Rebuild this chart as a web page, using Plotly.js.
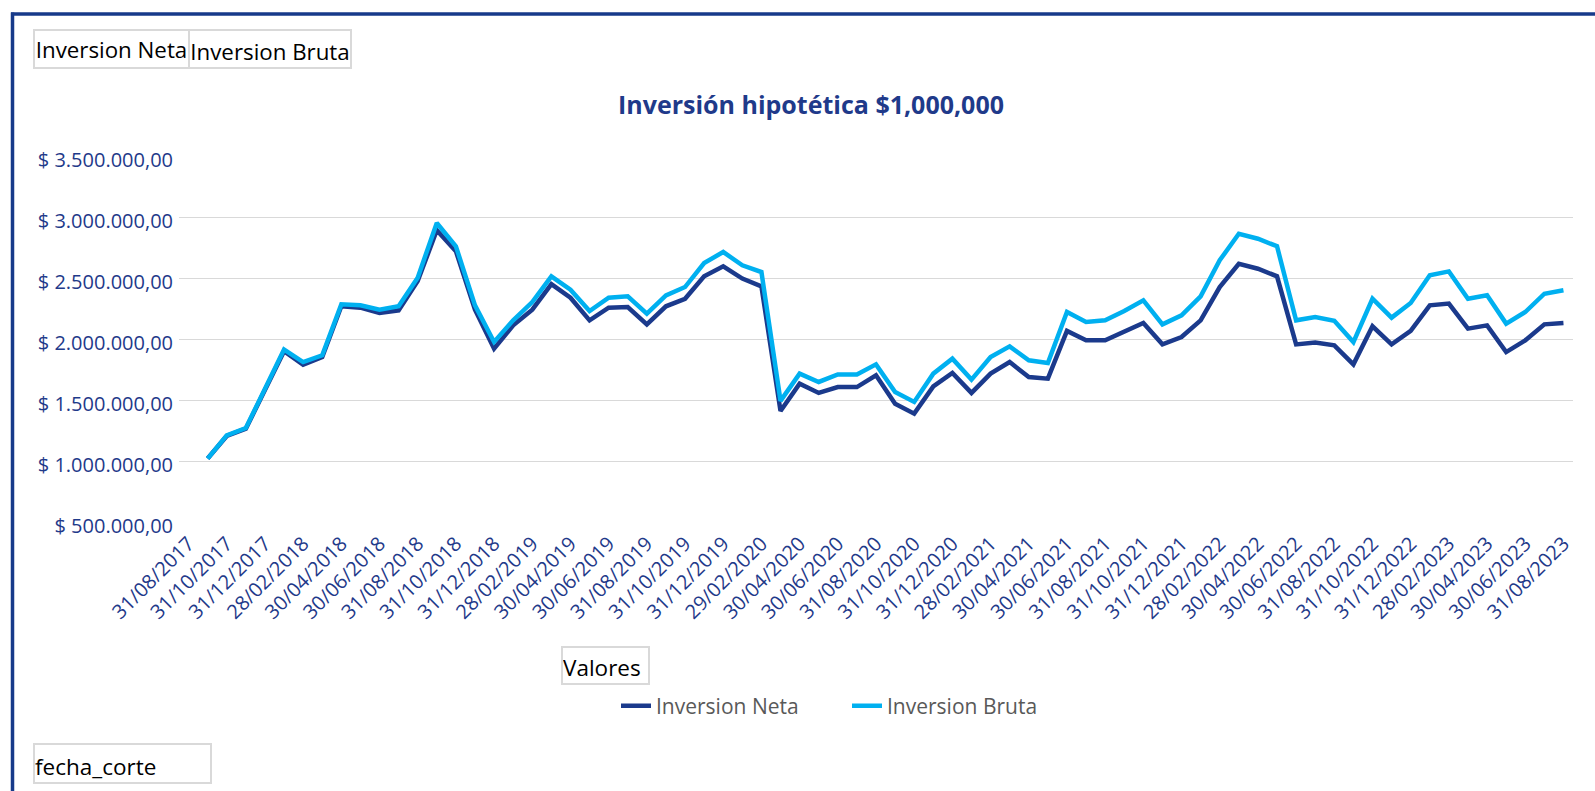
<!DOCTYPE html>
<html>
<head>
<meta charset="utf-8">
<script src="https://cdn.plot.ly/plotly-3.0.1.min.js"></script>
<style>
  html, body { margin: 0; padding: 0; background: #ffffff; }
  #chart { width: 1595px; height: 791px; }
</style>
</head>
<body>
<div id="chart"></div>
<script>
// ---- data ----
const fechas = [
  "31/08/2017","30/09/2017","31/10/2017","30/11/2017","31/12/2017",
  "31/01/2018","28/02/2018","31/03/2018","30/04/2018","31/05/2018","30/06/2018",
  "31/07/2018","31/08/2018","30/09/2018","31/10/2018","30/11/2018","31/12/2018",
  "31/01/2019","28/02/2019","31/03/2019","30/04/2019","31/05/2019","30/06/2019",
  "31/07/2019","31/08/2019","30/09/2019","31/10/2019","30/11/2019","31/12/2019",
  "31/01/2020","29/02/2020","31/03/2020","30/04/2020","31/05/2020","30/06/2020",
  "31/07/2020","31/08/2020","30/09/2020","31/10/2020","30/11/2020","31/12/2020",
  "31/01/2021","28/02/2021","31/03/2021","30/04/2021","31/05/2021","30/06/2021",
  "31/07/2021","31/08/2021","30/09/2021","31/10/2021","30/11/2021","31/12/2021",
  "31/01/2022","28/02/2022","31/03/2022","30/04/2022","31/05/2022","30/06/2022",
  "31/07/2022","31/08/2022","30/09/2022","31/10/2022","30/11/2022","31/12/2022",
  "31/01/2023","28/02/2023","31/03/2023","30/04/2023","31/05/2023","30/06/2023",
  "31/07/2023","31/08/2023"
];

const inversionNeta = [
  null, 1020000, 1205000, 1265000, 1590000, 1900000, 1790000, 1853000, 2268000, 2257000,
  2213000, 2235000, 2476000, 2891000, 2720000, 2240000, 1921000, 2112000, 2240000, 2449000,
  2338000, 2153000, 2257000, 2262000, 2120000, 2268000, 2330000, 2514000, 2596000, 2495000,
  2432000, 1410000, 1634000, 1558000, 1606000, 1606000, 1702000, 1470000, 1388000, 1612000,
  1722000, 1558000, 1716000, 1811000, 1688000, 1675000, 2066000, 1989000, 1989000, 2057000,
  2131000, 1956000, 2016000, 2153000, 2426000, 2617000, 2576000, 2514000, 1956000, 1972000,
  1948000, 1792000, 2104000, 1956000, 2066000, 2276000, 2290000, 2085000, 2112000, 1893000,
  1989000, 2120000, 2131000
];

const inversionBruta = [
  null, 1020000, 1210000, 1270000, 1593000, 1913000, 1811000, 1866000, 2284000, 2276000,
  2240000, 2268000, 2503000, 2951000, 2760000, 2276000, 1976000, 2153000, 2303000, 2514000,
  2404000, 2229000, 2339000, 2350000, 2208000, 2358000, 2426000, 2623000, 2713000, 2604000,
  2549000, 1493000, 1716000, 1648000, 1710000, 1710000, 1792000, 1565000, 1484000, 1716000,
  1839000, 1667000, 1853000, 1940000, 1825000, 1803000, 2221000, 2139000, 2153000, 2229000,
  2317000, 2120000, 2194000, 2350000, 2645000, 2863000, 2822000, 2760000, 2153000, 2180000,
  2150000, 1975000, 2330000, 2175000, 2295000, 2522000, 2554000, 2330000, 2358000, 2126000,
  2221000, 2371000, 2399000
];

const yTickVals = [500000, 1000000, 1500000, 2000000, 2500000, 3000000, 3500000];
const yTickText = ["$ 500.000,00", "$ 1.000.000,00", "$ 1.500.000,00", "$ 2.000.000,00",
                   "$ 2.500.000,00", "$ 3.000.000,00", "$ 3.500.000,00"];
const xTickLabels = fechas.filter((d, i) => i % 2 === 0);

const seriesNames = ["Inversion Neta", "Inversion Bruta"];
const chartTitle = "Inversión hipotética $1,000,000";

// ---- layout helpers (page pixels -> paper coords) ----
const W = 1595, H = 791;
const M = { l: 179, r: 22, t: 156, b: 269 };
const PW = W - M.l - M.r, PH = H - M.t - M.b;
const px = x => (x - M.l) / PW;
const py = y => (H - M.b - y) / PH;

const navy = "#1B3A8C";
const light = "#00B0F0";
const txtBlue = "#1F3A8A";

const traces = [
  {
    x: fechas, y: inversionNeta, name: seriesNames[0], type: "scatter", mode: "lines",
    line: { color: navy, width: 4.5 }, connectgaps: false, hoverinfo: "x+y+name"
  },
  {
    x: fechas, y: inversionBruta, name: seriesNames[1], type: "scatter", mode: "lines",
    line: { color: light, width: 4.5 }, connectgaps: false, hoverinfo: "x+y+name"
  }
];

function boxAnn(text, x0, y0, x1, y1, align, valign, size) {
  return {
    text: text, xref: "paper", yref: "paper",
    x: px(x0), y: py(y0), xanchor: "left", yanchor: "top",
    width: x1 - x0 - 2, height: y1 - y0 - 2,
    showarrow: false, align: align, valign: valign,
    bordercolor: "#D9D9D9", borderwidth: 2, borderpad: 0,
    bgcolor: "rgba(255,255,255,0)",
    font: { family: "Open Sans, sans-serif", size: size, color: "#000000" }
  };
}

const layout = {
  width: W, height: H,
  margin: M,
  paper_bgcolor: "#ffffff", plot_bgcolor: "#ffffff",
  font: { family: "Open Sans, sans-serif" },
  title: {
    text: chartTitle,
    font: { family: "Open Sans, sans-serif", size: 25, color: txtBlue, weight: 700 },
    xref: "paper", x: px(811), xanchor: "center",
    yref: "container", y: 1 - 105 / H, yanchor: "middle"
  },
  xaxis: {
    type: "category",
    range: [-0.5, fechas.length - 0.5],
    tickmode: "array", tickvals: xTickLabels, ticktext: xTickLabels,
    tickangle: -45, ticks: "", showgrid: false, zeroline: false, showline: false,
    tickfont: { family: "Open Sans, sans-serif", size: 20, color: txtBlue },
    ticklabelstandoff: 5
  },
  yaxis: {
    range: [500000, 3500000],
    tickmode: "array", tickvals: yTickVals, ticktext: yTickText,
    ticks: "", showgrid: true, gridcolor: "#D9D9D9", gridwidth: 1.3,
    zeroline: false, showline: false,
    tickfont: { family: "Open Sans, sans-serif", size: 20, color: txtBlue },
    ticklabelstandoff: 5, ticklabelshift: 4
  },
  showlegend: true,
  legend: {
    orientation: "h", xref: "paper", yref: "paper",
    x: px(847), xanchor: "center", y: py(706), yanchor: "middle",
    font: { family: "Open Sans, sans-serif", size: 21, color: "#595959" },
    bgcolor: "rgba(255,255,255,0)", itemwidth: 30, entrywidth: 186
  },
  annotations: [
    boxAnn(seriesNames[0], 33, 29, 188, 67, "center", "middle", 22.3),
    boxAnn(seriesNames[1], 188, 29, 350, 67, "center", "bottom", 22.3),
    boxAnn("Valores", 561, 646, 648, 683, "left", "bottom", 22.5),
    boxAnn("fecha_corte", 33, 743, 210, 782, "left", "bottom", 22.5)
  ],
  shapes: [
    { type: "line", xref: "paper", yref: "paper", x0: px(12.5), x1: px(12.5), y0: py(12.5), y1: py(H + 5),
      line: { color: "#173A8A", width: 3.5 } },
    { type: "line", xref: "paper", yref: "paper", x0: px(11), x1: px(W + 5), y0: py(14), y1: py(14),
      line: { color: "#173A8A", width: 3.5 } }
  ],
  hovermode: "closest"
};

Plotly.newPlot("chart", traces, layout, { displayModeBar: false, staticPlot: false });
</script>
</body>
</html>
